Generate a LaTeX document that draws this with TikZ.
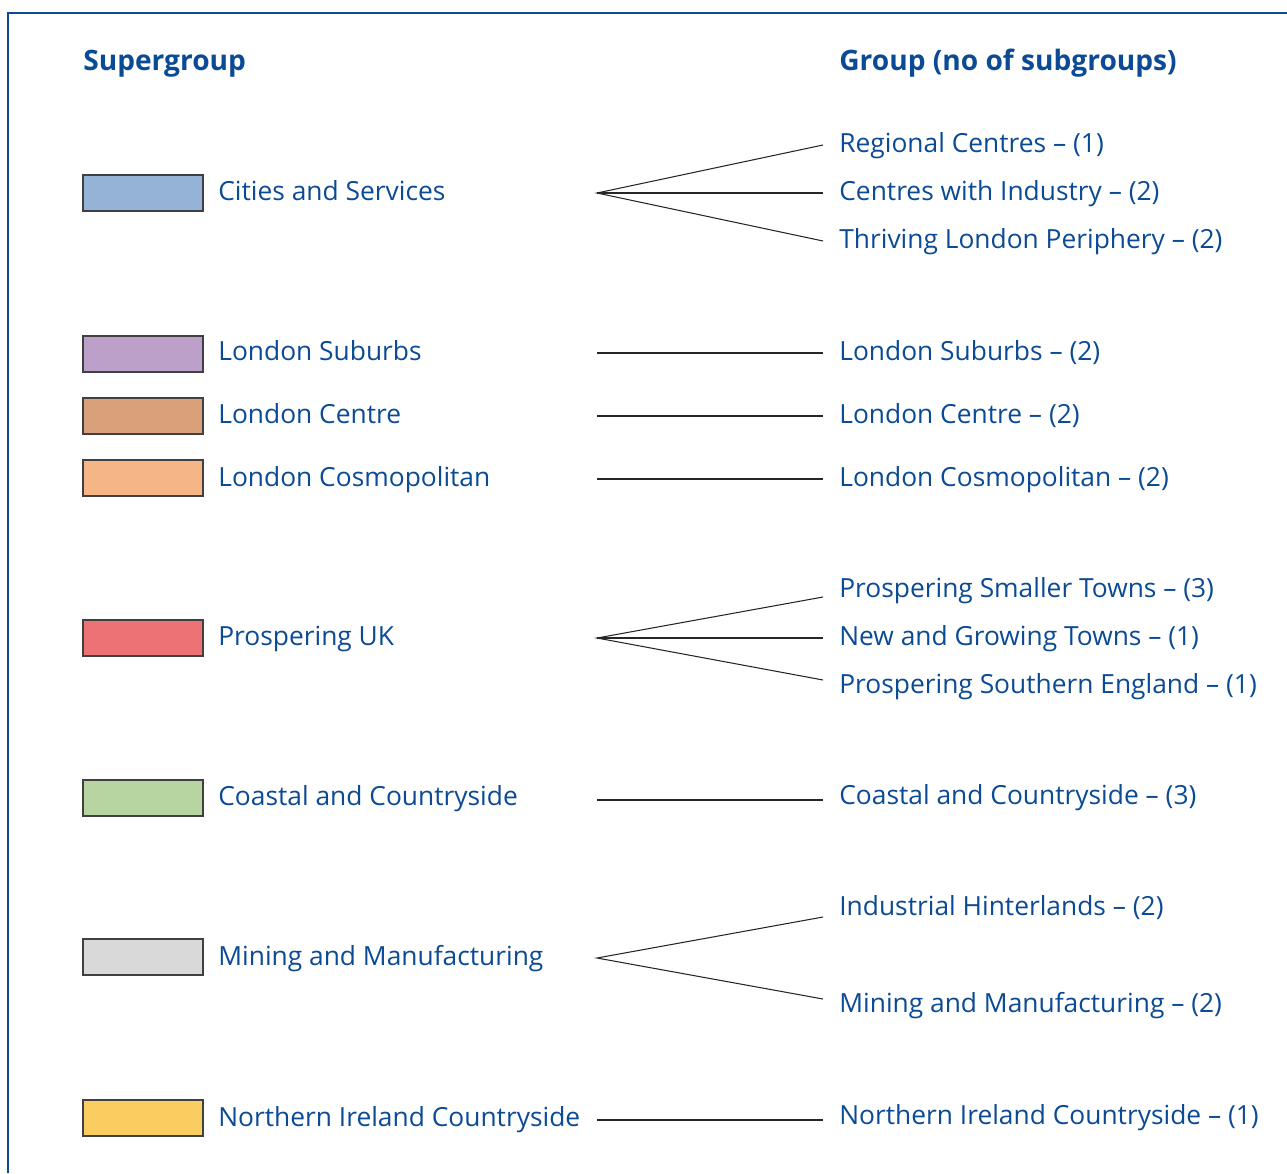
\documentclass[tikz,border=0pt]{standalone}
\usepackage{fontspec}
\setmainfont{Open Sans}
\definecolor{onsblue}{HTML}{0B4A94}
\definecolor{cities}{HTML}{95B3D7}
\definecolor{suburbs}{HTML}{BDA0C9}
\definecolor{centre}{HTML}{D9A07A}
\definecolor{cosmo}{HTML}{F5B587}
\definecolor{prosper}{HTML}{EC7276}
\definecolor{coastal}{HTML}{B6D5A0}
\definecolor{mining}{HTML}{D9D9D9}
\definecolor{nirl}{HTML}{F9CD5F}
\begin{document}
\begin{tikzpicture}[x=0.02cm, y=-0.02cm,
    lbl/.style={anchor=west, inner sep=0pt, text=onsblue,
      text height=1.05em, text depth=0.2em,
      font=\fontsize{15}{18}\selectfont},
    head/.style={lbl, font=\fontsize{16}{19}\selectfont\bfseries},
    grp/.style={lbl, inner xsep=0.32cm},
    swatch/.style={draw=black!75, line width=0.8pt, minimum width=2.4cm,
      minimum height=0.72cm, inner sep=0pt},
    link/.style={line width=0.6pt, black!85}]
  \def\hx{597}   % where the links start
  \def\gx{823}   % where the links end
  \useasboundingbox (0,0) rectangle (1287,1173);
  %
  \draw[onsblue, line width=1.6pt] (8,1173) -- (8,13) -- (1287,13);
  \node[head] (hsup) at (83,63) {Supergroup};
  \node[head] (hgrp) at (839,63) {Group (no of subgroups)};
  %
  % supergroups
  \node[swatch, fill=cities]  (s1) at (143,193) {};
  \node[lbl] (l1) at (218,193) {Cities and Services};
  \node[swatch, fill=suburbs] (s2) at (143,354) {};
  \node[lbl] (l2) at (218,353) {London Suburbs};
  \node[swatch, fill=centre]  (s3) at (143,416) {};
  \node[lbl] (l3) at (218,416) {London Centre};
  \node[swatch, fill=cosmo]   (s4) at (143,478) {};
  \node[lbl] (l4) at (218,479) {London Cosmopolitan};
  \node[swatch, fill=prosper] (s5) at (143,638) {};
  \node[lbl] (l5) at (218,638) {Prospering UK};
  \node[swatch, fill=coastal] (s6) at (143,798) {};
  \node[lbl] (l6) at (218,798) {Coastal and Countryside};
  \node[swatch, fill=mining]  (s7) at (143,957) {};
  \node[lbl] (l7) at (218,958) {Mining and Manufacturing};
  \node[swatch, fill=nirl]    (s8) at (143,1118) {};
  \node[lbl] (l8) at (218,1119) {Northern Ireland Countryside};
  %
  % groups
  \node[grp] (g1)  at (\gx,145)  {Regional Centres -- (1)};
  \node[grp] (g2)  at (\gx,193)  {Centres with Industry -- (2)};
  \node[grp] (g3)  at (\gx,241)  {Thriving London Periphery -- (2)};
  \node[grp] (g4)  at (\gx,353)  {London Suburbs -- (2)};
  \node[grp] (g5)  at (\gx,416)  {London Centre -- (2)};
  \node[grp] (g6)  at (\gx,479)  {London Cosmopolitan -- (2)};
  \node[grp] (g7)  at (\gx,590)  {Prospering Smaller Towns -- (3)};
  \node[grp] (g8)  at (\gx,638)  {New and Growing Towns -- (1)};
  \node[grp] (g9)  at (\gx,686)  {Prospering Southern England -- (1)};
  \node[grp] (g10) at (\gx,797)  {Coastal and Countryside -- (3)};
  \node[grp] (g11) at (\gx,908)  {Industrial Hinterlands -- (2)};
  \node[grp] (g12) at (\gx,1005) {Mining and Manufacturing -- (2)};
  \node[grp] (g13) at (\gx,1117) {Northern Ireland Countryside -- (1)};
  %
  % links
  \coordinate (h1) at (\hx,193);
  \coordinate (h2) at (\hx,353);
  \coordinate (h3) at (\hx,416);
  \coordinate (h4) at (\hx,479);
  \coordinate (h5) at (\hx,638);
  \coordinate (h6) at (\hx,800);
  \coordinate (h7) at (\hx,958);
  \coordinate (h8) at (\hx,1120);
  \coordinate (e7) at (\gx,597);
  \coordinate (e9) at (\gx,680);
  \coordinate (e10) at (\gx,800);
  \coordinate (e11) at (\gx,917);
  \coordinate (e12) at (\gx,999);
  \coordinate (e13) at (\gx,1120);
  \draw[link] (g1.west) -- (h1) -- (g3.west);
  \draw[link] (h1) -- (g2.west);
  \draw[link] (h2) -- (g4.west);
  \draw[link] (h3) -- (g5.west);
  \draw[link] (h4) -- (g6.west);
  \draw[link] (e7) -- (h5) -- (e9);
  \draw[link] (h5) -- (g8.west);
  \draw[link] (h6) -- (e10);
  \draw[link] (e11) -- (h7) -- (e12);
  \draw[link] (h8) -- (e13);
\end{tikzpicture}
\end{document}
